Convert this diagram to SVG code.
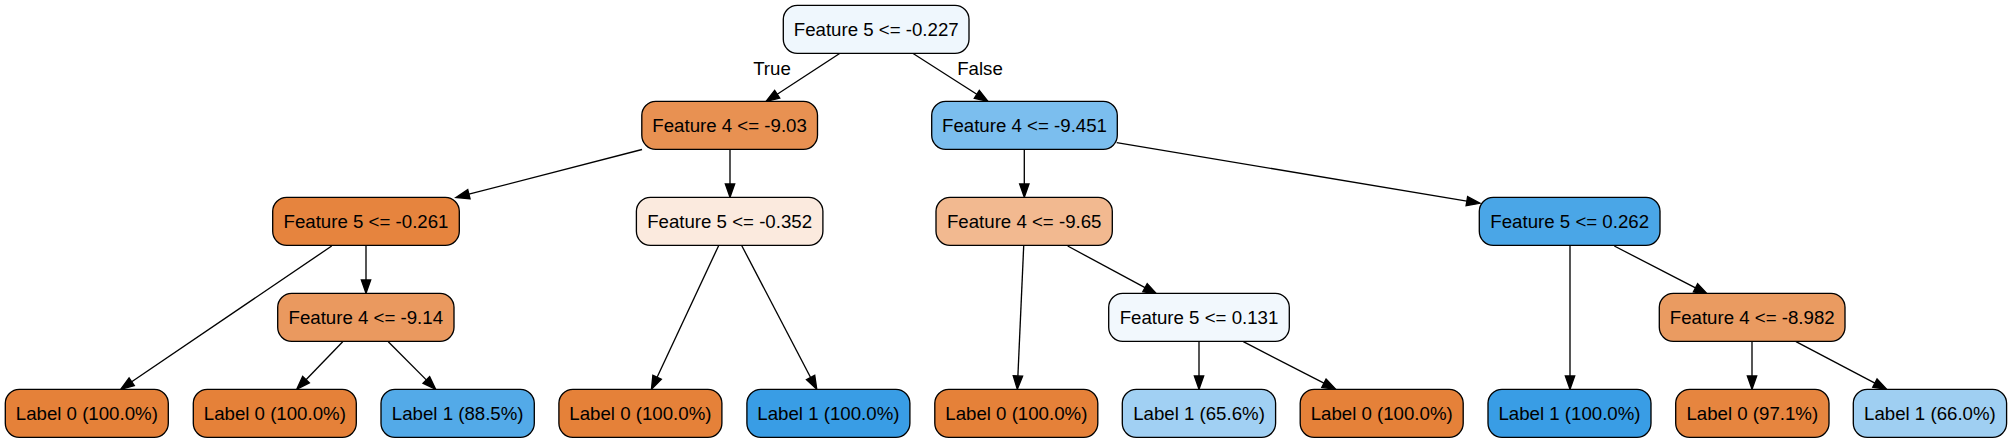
<svg xmlns="http://www.w3.org/2000/svg" width="2012" height="443" viewBox="0 0 2012 443">
<style>
.n rect{stroke:#000;stroke-width:1.33}
.n text{font-family:"Liberation Sans",Arial,sans-serif;font-size:18.67px;text-anchor:middle;fill:#000}
.lbl{font-family:"Liberation Sans",Arial,sans-serif;font-size:18.67px;text-anchor:middle;fill:#000}
#edges line{stroke:#000;stroke-width:1.33;marker-end:url(#arr)}
</style>
<defs>
<marker id="arr" markerUnits="userSpaceOnUse" markerWidth="14" markerHeight="10" refX="0" refY="4.67" orient="auto" viewBox="0 0 14 9.34" overflow="visible">
<path d="M0,0 L13.33,4.67 L0,9.34 Z" fill="#000" stroke="#000" stroke-width="1.33"/>
</marker>
</defs>
<rect width="2012" height="443" fill="#fff"/>
<g id="edges">
<line x1="840" y1="53.3" x2="777.2" y2="94.2"/>
<line x1="912.7" y1="53.3" x2="976.8" y2="94.3"/>
<line x1="642" y1="149.5" x2="468.9" y2="194.2"/>
<line x1="730" y1="149.3" x2="730" y2="184"/>
<line x1="1024.3" y1="149.3" x2="1024.3" y2="184"/>
<line x1="1116.7" y1="142.7" x2="1466.85" y2="201.1"/>
<line x1="331.7" y1="246" x2="131.7" y2="381.8"/>
<line x1="366" y1="246" x2="366" y2="280"/>
<line x1="342.7" y1="341.7" x2="306" y2="379.7"/>
<line x1="388.3" y1="341.7" x2="426.3" y2="379.9"/>
<line x1="718.6" y1="245.7" x2="657.1" y2="377.2"/>
<line x1="741.8" y1="245.7" x2="810.6" y2="377.5"/>
<line x1="1023.7" y1="246" x2="1017.9" y2="376"/>
<line x1="1067.7" y1="246" x2="1145" y2="287.7"/>
<line x1="1199" y1="341.7" x2="1199" y2="376"/>
<line x1="1243.3" y1="341.7" x2="1323.9" y2="383.2"/>
<line x1="1570" y1="246" x2="1570" y2="376"/>
<line x1="1614.3" y1="246" x2="1695.5" y2="287.9"/>
<line x1="1752" y1="341.7" x2="1752" y2="376"/>
<line x1="1796" y1="341.7" x2="1874.9" y2="383.1"/>
<text class="lbl" x="772" y="75">True</text>
<text class="lbl" x="980" y="75">False</text>
</g>
<g id="n0" class="n"><rect x="783.3" y="5.33" width="185.7" height="48" rx="14" fill="#eff7fd"/><text x="876.2" y="36">Feature 5 &lt;= -0.227</text></g>
<g id="n1" class="n"><rect x="641.8" y="101.33" width="175.7" height="48" rx="14" fill="#e89152"/><text x="729.6" y="132">Feature 4 &lt;= -9.03</text></g>
<g id="n2" class="n"><rect x="931.7" y="101.33" width="185.6" height="48" rx="14" fill="#7bbeee"/><text x="1024.5" y="132">Feature 4 &lt;= -9.451</text></g>
<g id="n3" class="n"><rect x="272.7" y="197.33" width="186.6" height="48" rx="14" fill="#e6843e"/><text x="366" y="228">Feature 5 &lt;= -0.261</text></g>
<g id="n4" class="n"><rect x="636.4" y="197.33" width="186.5" height="48" rx="14" fill="#fbeade"/><text x="729.6" y="228">Feature 5 &lt;= -0.352</text></g>
<g id="n5" class="n"><rect x="936" y="197.33" width="176.3" height="48" rx="14" fill="#f2b990"/><text x="1024.2" y="228">Feature 4 &lt;= -9.65</text></g>
<g id="n6" class="n"><rect x="1479.3" y="197.33" width="180.7" height="48" rx="14" fill="#4aa6e7"/><text x="1569.7" y="228">Feature 5 &lt;= 0.262</text></g>
<g id="n7" class="n"><rect x="277.7" y="293.33" width="176.3" height="48" rx="14" fill="#ea995f"/><text x="365.8" y="324">Feature 4 &lt;= -9.14</text></g>
<g id="n8" class="n"><rect x="1108.7" y="293.33" width="180.6" height="48" rx="14" fill="#f2f8fd"/><text x="1199" y="324">Feature 5 &lt;= 0.131</text></g>
<g id="n9" class="n"><rect x="1659.3" y="293.33" width="185.7" height="48" rx="14" fill="#ea9b61"/><text x="1752.2" y="324">Feature 4 &lt;= -8.982</text></g>
<g id="l1" class="n"><rect x="5.3" y="389.33" width="163" height="48" rx="14" fill="#e58139"/><text x="86.8" y="420">Label 0 (100.0%)</text></g>
<g id="l2" class="n"><rect x="193.3" y="389.33" width="163" height="48" rx="14" fill="#e58139"/><text x="274.8" y="420">Label 0 (100.0%)</text></g>
<g id="l3" class="n"><rect x="381" y="389.33" width="153.3" height="48" rx="14" fill="#53aae8"/><text x="457.7" y="420">Label 1 (88.5%)</text></g>
<g id="l4" class="n"><rect x="558.9" y="389.33" width="163" height="48" rx="14" fill="#e58139"/><text x="640.4" y="420">Label 0 (100.0%)</text></g>
<g id="l5" class="n"><rect x="746.9" y="389.33" width="163" height="48" rx="14" fill="#399de5"/><text x="828.4" y="420">Label 1 (100.0%)</text></g>
<g id="l6" class="n"><rect x="934.8" y="389.33" width="163" height="48" rx="14" fill="#e58139"/><text x="1016.3" y="420">Label 0 (100.0%)</text></g>
<g id="l7" class="n"><rect x="1122.3" y="389.33" width="153.3" height="48" rx="14" fill="#a1d0f3"/><text x="1199" y="420">Label 1 (65.6%)</text></g>
<g id="l8" class="n"><rect x="1300.2" y="389.33" width="163" height="48" rx="14" fill="#e58139"/><text x="1381.7" y="420">Label 0 (100.0%)</text></g>
<g id="l9" class="n"><rect x="1488" y="389.33" width="163" height="48" rx="14" fill="#399de5"/><text x="1569.5" y="420">Label 1 (100.0%)</text></g>
<g id="l10" class="n"><rect x="1675.7" y="389.33" width="153.3" height="48" rx="14" fill="#e6853f"/><text x="1752.3" y="420">Label 0 (97.1%)</text></g>
<g id="l11" class="n"><rect x="1853.3" y="389.33" width="153.3" height="48" rx="14" fill="#9fcff2"/><text x="1929.9" y="420">Label 1 (66.0%)</text></g>
</svg>
